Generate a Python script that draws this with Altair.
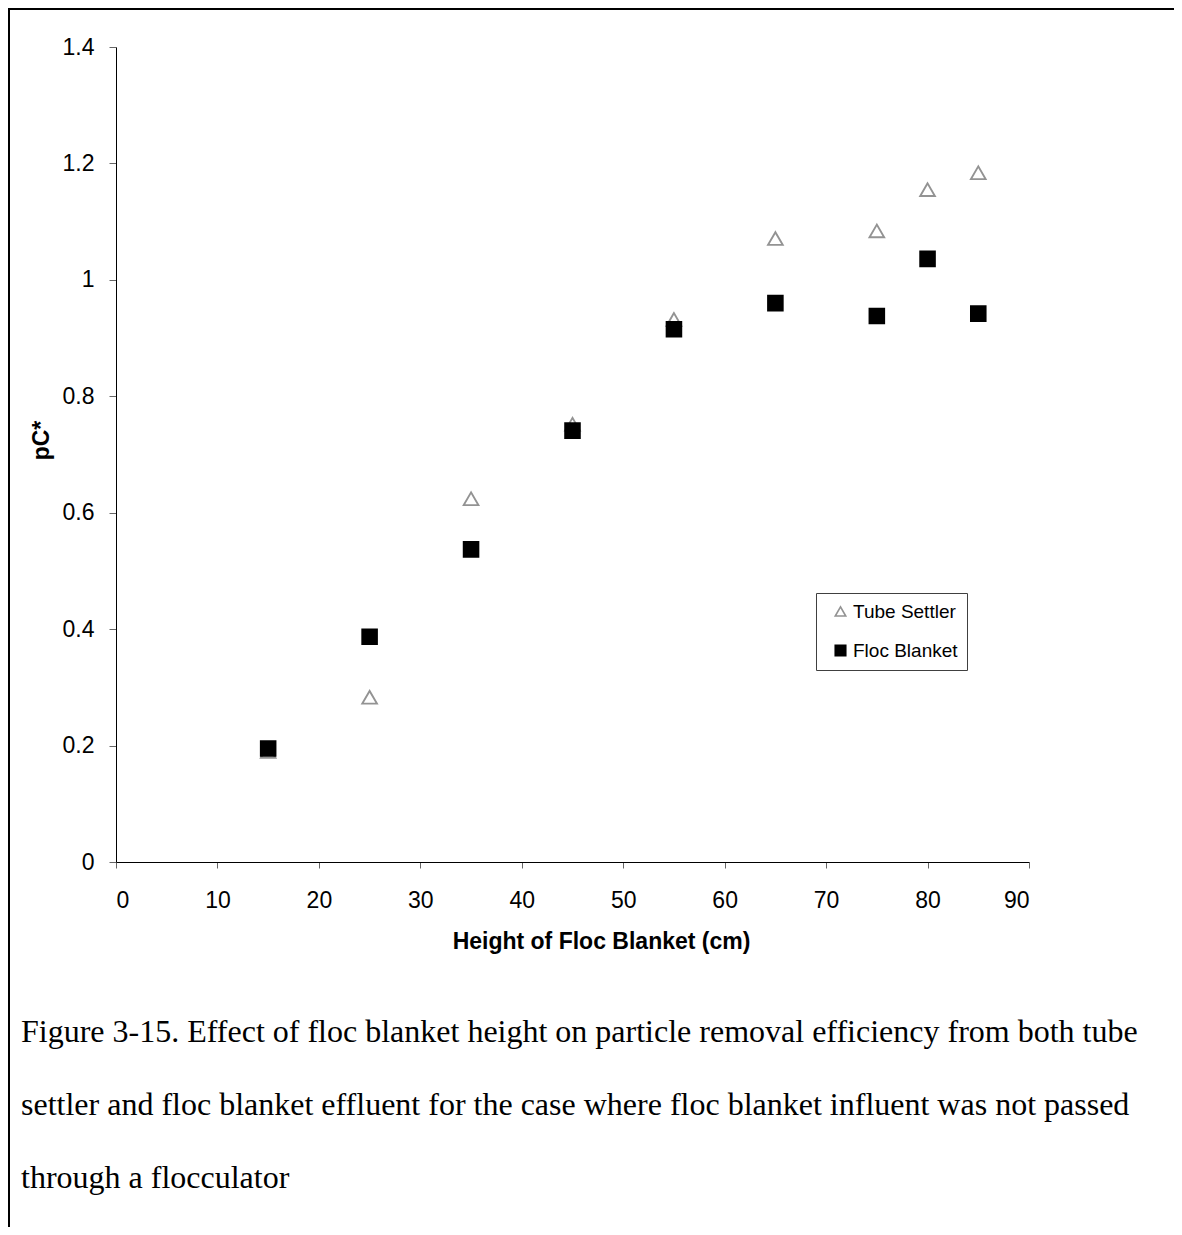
import altair as alt
import pandas as pd

# ---- data ----
series_names = ["Tube Settler", "Floc Blanket"]
heights = [15, 25, 35, 45, 55, 65, 75, 80, 85]
tube_settler = [0.190, 0.283, 0.624, 0.752, 0.932, 1.071, 1.084, 1.155, 1.184]
floc_blanket = [0.195, 0.387, 0.537, 0.741, 0.915, 0.960, 0.938, 1.036, 0.942]

x_ticks = [0, 10, 20, 30, 40, 50, 60, 70, 80, 90]
y_ticks = [0, 0.2, 0.4, 0.6, 0.8, 1.0, 1.2, 1.4]

x_title = "Height of Floc Blanket (cm)"
y_title = "pC*"
caption_lines = [
    "Figure 3-15. Effect of floc blanket height on particle removal efficiency from both tube",
    "settler and floc blanket effluent for the case where floc blanket influent was not passed",
    "through a flocculator",
]

rows = []
for h, v in zip(heights, tube_settler):
    rows.append({"height": h, "pc": v, "series": series_names[0], "o": 0})
for h, v in zip(heights, floc_blanket):
    rows.append({"height": h, "pc": v, "series": series_names[1], "o": 1})
df = pd.DataFrame(rows)

W, H = 913, 815
PAD_L, PAD_T = 108, 39
TOTAL_W, TOTAL_H = 1166, 1219

legend = alt.Legend(
    title=None,
    orient="none",
    legendX=700,
    legendY=546,
    padding=9,
    strokeColor="#404040",
    fillColor="white",
    labelFontSize=19,
    labelFont="Liberation Sans",
    labelColor="black",
    symbolSize=110,
    symbolOffset=6,
    labelOffset=3,
    rowPadding=19,
    symbolStrokeWidth=1.6,
    labelExpr="datum.label + '\u00a0\u00a0'",
)

points = alt.Chart(df).mark_point(size=215, strokeWidth=1.9, opacity=1, fillOpacity=1, filled=False).encode(
    x=alt.X(
        "height:Q",
        scale=alt.Scale(domain=[0, 90], nice=False),
        axis=alt.Axis(
            values=x_ticks,
            title=x_title,
            titleX=485,
            titleY=86,
            titleAlign="center",
            titleBaseline="alphabetic",
            titleAnchor="middle",
        ),
    ),
    y=alt.Y(
        "pc:Q",
        scale=alt.Scale(domain=[0, 1.4], nice=False),
        axis=alt.Axis(
            values=y_ticks,
            format=".1~f",
            title=y_title,
            titleX=-68,
            titleY=393,
            titleAngle=-90,
            titleAlign="center",
            titleBaseline="alphabetic",
            tickSize=7,
            labelPadding=15,
        ),
    ),
    shape=alt.Shape("series:N", scale=alt.Scale(domain=series_names, range=["triangle-up", "square"]), legend=legend),
    stroke=alt.Stroke("series:N", scale=alt.Scale(domain=series_names, range=["#939393", "#000000"]), legend=legend),
    fill=alt.Fill("series:N", scale=alt.Scale(domain=series_names, range=["transparent", "#000000"]), legend=legend),
    order=alt.Order("o:Q"),
)

layers = [points]

for i, line in enumerate(caption_lines):
    layers.append(
        alt.Chart(pd.DataFrame({"t": [line]}))
        .mark_text(align="left", baseline="alphabetic", font="Liberation Serif", fontSize=32, color="black")
        .encode(text="t:N", x=alt.value(-95), y=alt.value(995 + 73 * i))
    )

border_df = pd.DataFrame({"a": [0]})
layers.append(
    alt.Chart(border_df).mark_rule(color="black", strokeWidth=2).encode(
        x=alt.value(-107), y=alt.value(-39), y2=alt.value(TOTAL_H - PAD_T)
    )
)
layers.append(
    alt.Chart(border_df).mark_rule(color="black", strokeWidth=2).encode(
        x=alt.value(-PAD_L), x2=alt.value(TOTAL_W - PAD_L), y=alt.value(-38)
    )
)

chart = (
    alt.layer(*layers)
    .properties(
        width=W,
        height=H,
        autosize=alt.AutoSizeParams(type="none"),
        padding={"left": PAD_L, "top": PAD_T, "right": TOTAL_W - PAD_L - W, "bottom": TOTAL_H - PAD_T - H},
        background="white",
    )
    .configure_view(strokeOpacity=0)
    .configure_axis(
        grid=False,
        domainColor="black",
        domainWidth=1,
        tickColor="#666666",
        tickWidth=1,
        labelFont="Liberation Sans",
        labelFontSize=23,
        labelColor="black",
        titleFont="Liberation Sans",
        titleFontSize=23,
        titleFontWeight="bold",
        titleColor="black",
    )
    .configure_axisX(tickSize=6, labelPadding=21)
)

chart.save("out.html", embed_options={"renderer": "svg", "actions": False})
